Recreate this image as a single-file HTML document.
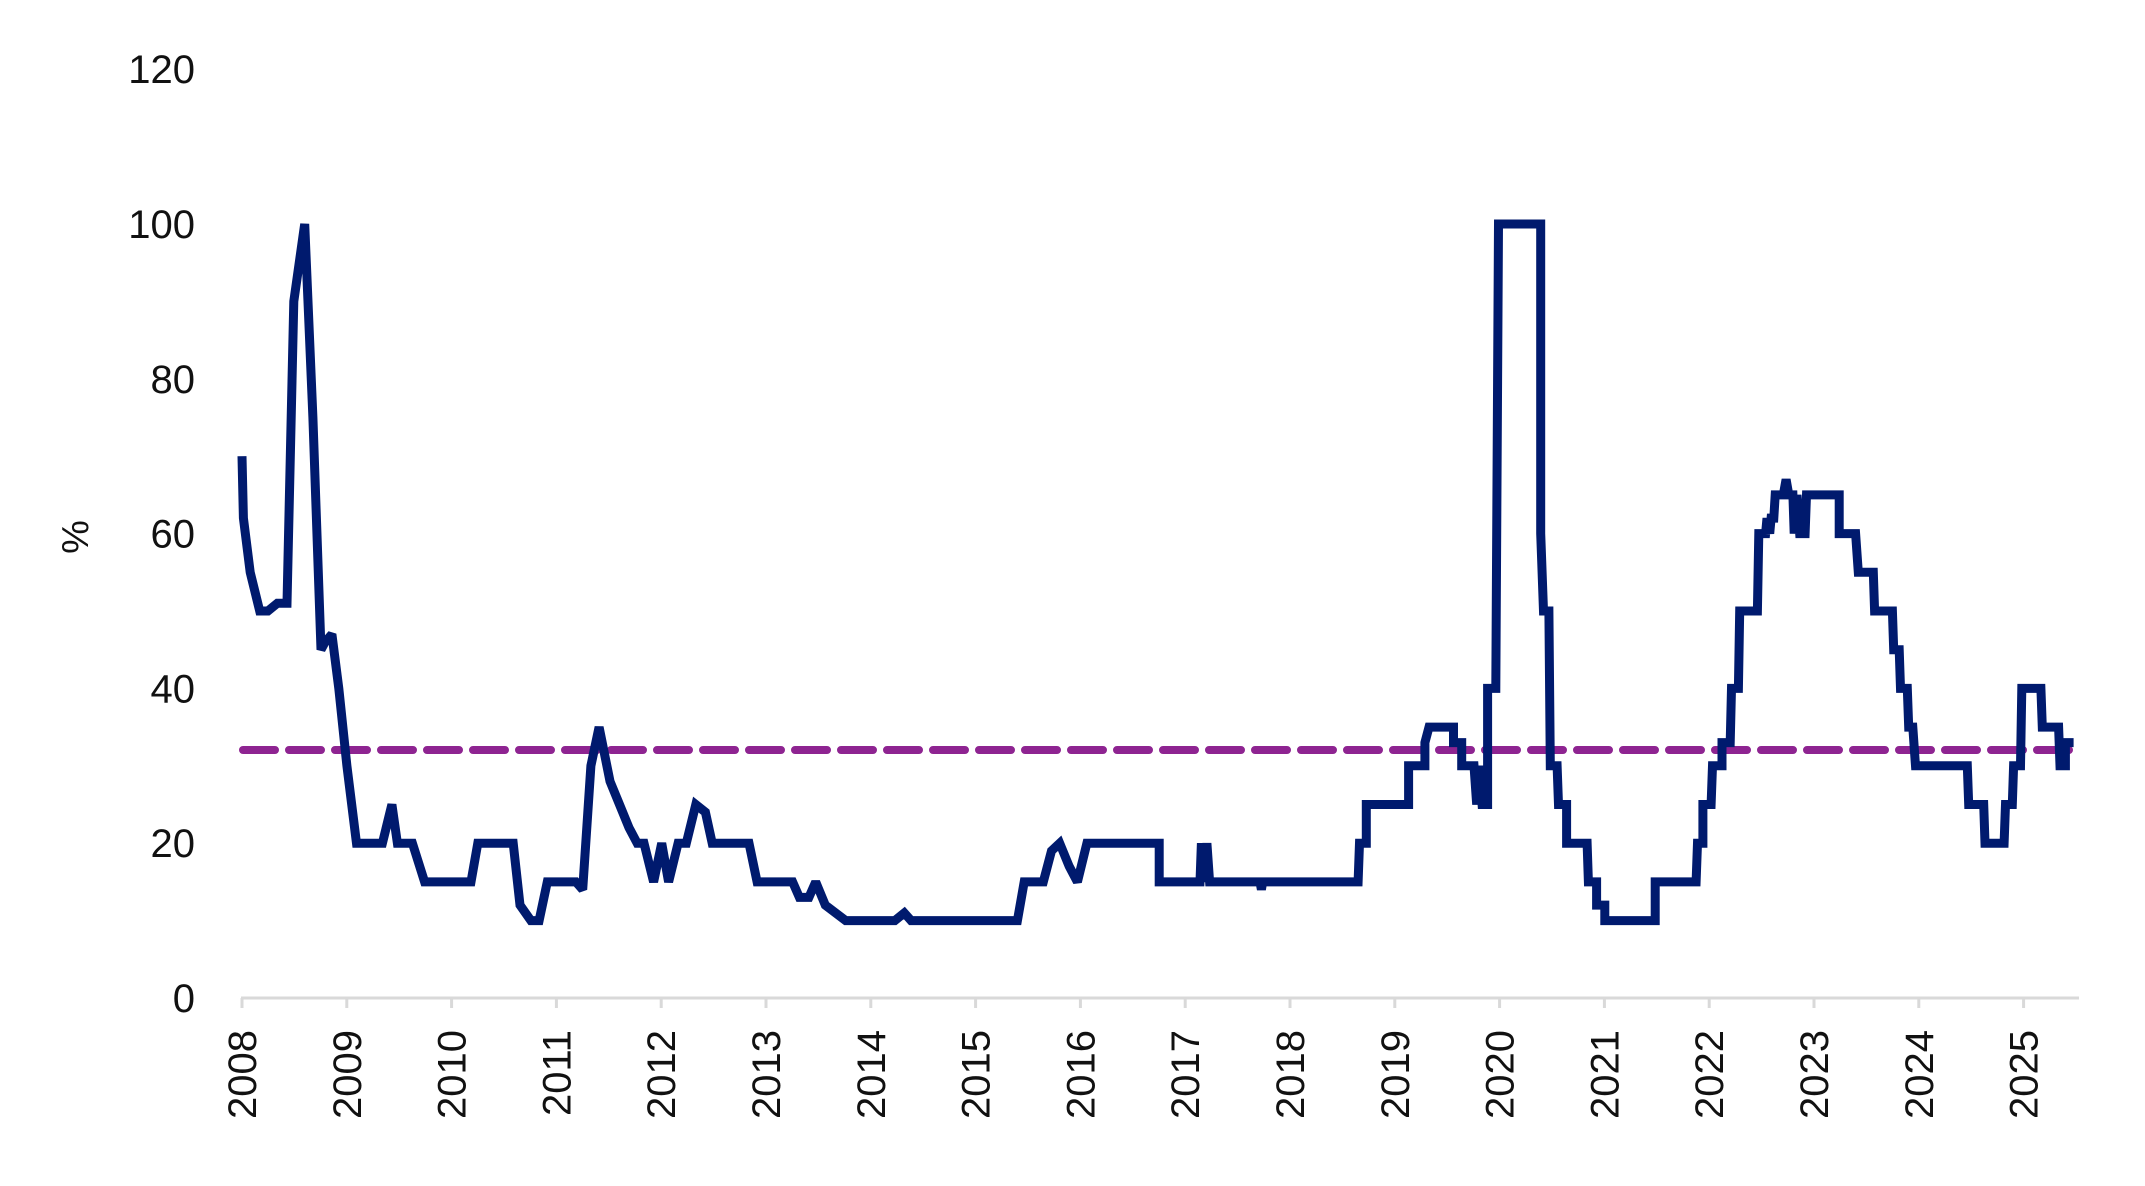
<!DOCTYPE html>
<html><head><meta charset="utf-8"><style>
html,body{margin:0;padding:0;background:#fff}
svg text{font-family:"Liberation Sans",sans-serif;fill:#111}
</style></head><body>
<svg id="s" width="2145" height="1181" viewBox="0 0 2145 1181" xmlns="http://www.w3.org/2000/svg">
<line x1="241" y1="998" x2="2079" y2="998" stroke="#d9d9d9" stroke-width="3"/>
<g id="ticks"></g>
<g font-size="40" text-anchor="end" id="ylab"></g>
<text x="0" y="0" font-size="38" text-anchor="middle" transform="translate(88,537) rotate(-90)">%</text>
<line x1="243" y1="750" x2="2079" y2="750" stroke="#8e2491" stroke-width="8" stroke-dasharray="32,14" stroke-linecap="round"/>
<polyline id="p" fill="none" stroke="#001a6e" stroke-width="9" stroke-linejoin="miter" stroke-miterlimit="2" stroke-linecap="butt"/>
</svg>
<script>
var d=[176,70,177,62,182,55,189,50,195,50,202,51,209,51,214,90,222,100,228,75,234,45,237,46,242,47,247,40,253,30,260,20,279,20,286,25,290,20,301,20,310,15,344,15,349,20,375,20,380,12,388,10,394,10,400,15,421,15,426,14,432,30,438,35,446,28,453,25,460,22,466,20,471,20,478,15,484,20,489,15,496,20,502,20,509,25,516,24,521,20,548,20,554,15,580,15,585,13,592,13,597,15,604,12,619,10,655,10,662,11,667,10,745,10,750,15,764,15,770,19,776,20,783,17,789,15,796,20,849,20,849,15,879,15,880,20,882,15,884,20,886,15,923,15,924,14,925,15,995,15,996,20,1001,20,1001,25,1032,25,1032,30,1044,30,1044,33,1047,35,1065,35,1065,33,1071,33,1071,30,1080,30,1082,25,1084,30,1086,25,1090,25,1090,40,1096,40,1098,100,1129,100,1129,60,1131,50,1135,50,1136,30,1141,30,1142,25,1148,25,1148,20,1163,20,1164,15,1170,15,1170,12,1176,12,1176,10,1213,10,1213,15,1243,15,1244,20,1248,20,1248,25,1254,25,1255,30,1262,30,1262,33,1268,33,1269,40,1274,40,1275,50,1288,50,1289,60,1294,60,1295,62,1297,60,1298,62,1300,62,1301,65,1307,65,1309,67,1311,65,1314,65,1315,60,1317,65,1319,60,1323,60,1324,65,1348,65,1348,60,1360,60,1362,55,1373,55,1374,50,1387,50,1388,45,1392,45,1393,40,1398,40,1399,35,1402,35,1404,30,1442,30,1443,25,1454,25,1455,20,1469,20,1470,25,1475,25,1476,30,1481,30,1482,40,1496,40,1497,35,1509,35,1510,30,1514,30,1514,33,1520,33];
var pts=[];for(var i=0;i<d.length;i+=2){pts.push((242+(d[i]-176)*1.3628).toFixed(1)+","+(998-7.74*d[i+1]).toFixed(1));}
document.getElementById('p').setAttribute('points',pts.join(' '));
var ns="http://www.w3.org/2000/svg",t=document.getElementById('ticks'),yl=document.getElementById('ylab');
for(var y=2008;y<=2025;y++){var x=242+104.8*(y-2008);
var l=document.createElementNS(ns,'line');l.setAttribute('x1',x);l.setAttribute('x2',x);l.setAttribute('y1',998);l.setAttribute('y2',1008);l.setAttribute('stroke','#d9d9d9');l.setAttribute('stroke-width','3');t.appendChild(l);
var tx=document.createElementNS(ns,'text');tx.setAttribute('font-size','40');tx.setAttribute('text-anchor','end');tx.setAttribute('transform','translate('+(x+14)+',1030) rotate(-90)');tx.textContent=y;t.appendChild(tx);}
for(var v=0;v<=120;v+=20){var tx=document.createElementNS(ns,'text');tx.setAttribute('x',195);tx.setAttribute('y',998-7.74*v+14);tx.textContent=v;yl.appendChild(tx);}
</script>
</body></html>
